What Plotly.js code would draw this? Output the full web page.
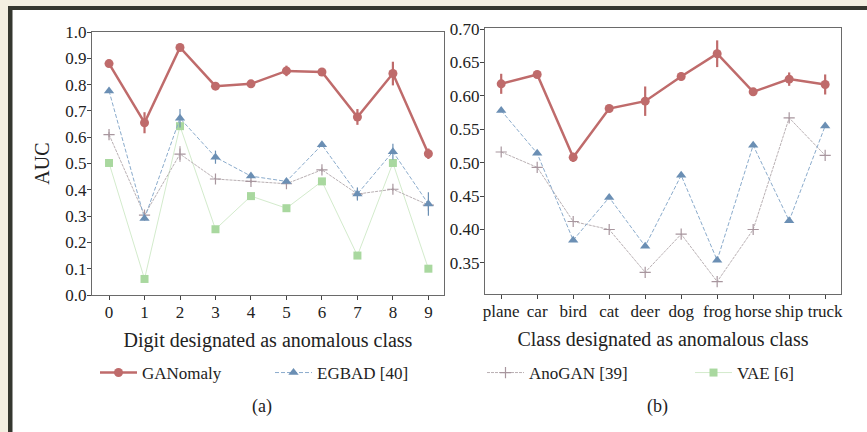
<!DOCTYPE html>
<html>
<head>
<meta charset="utf-8">
<script src="https://cdn.plot.ly/plotly-3.0.1.min.js"></script>
<style>html,body{margin:0;padding:0;background:#f3efe1;}#chart{width:867px;height:432px;}</style>
</head>
<body>
<div id="chart"></div>
<script>
// ---- data ----
const digits = ["0","1","2","3","4","5","6","7","8","9"];
const cifarClasses = ["plane","car","bird","cat","deer","dog","frog","horse","ship","truck"];

const mnistGANomaly    = [0.880,0.655,0.941,0.794,0.803,0.852,0.848,0.677,0.842,0.537];
const mnistGANomalyErr = [0.005,0.040,0.005,0.006,0.005,0.020,0.015,0.030,0.045,0.020];
const mnistEGBAD       = [0.776,0.291,0.672,0.524,0.452,0.432,0.571,0.384,0.545,0.346];
const mnistEGBADErr    = [0.004,0.005,0.035,0.025,0.008,0.006,0.006,0.025,0.030,0.045];
const mnistAnoGAN      = [0.610,0.304,0.536,0.441,0.432,0.423,0.476,0.384,0.402,0.342];
const mnistAnoGANErr   = [0.010,0.010,0.030,0.004,0.006,0.008,0.008,0.006,0.006,0.006];
const mnistVAE         = [0.502,0.061,0.642,0.250,0.376,0.330,0.432,0.150,0.502,0.100];

const cifarGANomaly    = [0.618,0.632,0.508,0.581,0.592,0.629,0.663,0.606,0.625,0.617];
const cifarGANomalyErr = [0.015,0.002,0.007,0.004,0.022,0.006,0.020,0.004,0.010,0.015];
const cifarEGBAD       = [0.578,0.514,0.384,0.448,0.375,0.481,0.354,0.526,0.413,0.555];
const cifarAnoGAN      = [0.516,0.493,0.412,0.400,0.336,0.393,0.322,0.400,0.567,0.511];

const legendNames = ["GANomaly","EGBAD [40]","AnoGAN [39]","VAE [6]"];
const yTicksLeft  = [0,0.1,0.2,0.3,0.4,0.5,0.6,0.7,0.8,0.9,1.0];
const yTicksRight = [0.35,0.40,0.45,0.50,0.55,0.60,0.65,0.70];

// ---- styles ----
const W = 867, H = 432;
const serif = "Liberation Serif";
const cRed = "#bf6b6b", cBlue = "#6b8fb4", cBlueLine = "#8aabcc", cGrey = "#a8969e", cGreyLine = "#b9b0b3", cGreen = "#a9d89f", cGreenLine = "#d3ebcc";
const px = v => v / W, py = v => (H - v) / H;

function gan(x, y, err, xa, ya, show) {
  return {x, y, xaxis: xa, yaxis: ya, type: "scatter", mode: "lines+markers", name: legendNames[0],
    legend: "legend", showlegend: show,
    line: {color: cRed, width: 2.5}, marker: {symbol: "circle", size: 9, color: cRed},
    error_y: {type: "data", array: err, visible: true, thickness: 2.2, width: 0, color: cRed}};
}
function egbad(x, y, err, xa, ya, show) {
  const t = {x, y, xaxis: xa, yaxis: ya, type: "scatter", mode: "lines+markers", name: legendNames[1],
    legend: "legend2", showlegend: show,
    line: {color: cBlueLine, width: 1, dash: "4px,2px"}, marker: {symbol: "triangle-up", size: 9, color: cBlue}};
  if (err) t.error_y = {type: "data", array: err, visible: true, thickness: 1.2, width: 0, color: cBlue};
  return t;
}
function anogan(x, y, err, xa, ya, show) {
  const t = {x, y, xaxis: xa, yaxis: ya, type: "scatter", mode: "lines+markers", name: legendNames[2],
    legend: "legend3", showlegend: show,
    line: {color: cGreyLine, width: 1, dash: "3px,1px"}, marker: {symbol: "cross-thin", size: 8, line: {color: cGrey, width: 1.2}}};
  if (err) t.error_y = {type: "data", array: err, visible: true, thickness: 1, width: 0, color: cGrey};
  return t;
}
function vae(x, y, xa, ya, show) {
  return {x, y, xaxis: xa, yaxis: ya, type: "scatter", mode: "lines+markers", name: legendNames[3],
    legend: "legend4", showlegend: show,
    line: {color: cGreenLine, width: 1}, marker: {symbol: "square", size: 8, color: cGreen}};
}

const xIdx = digits.map((d, i) => i);
const traces = [
  vae(xIdx, mnistVAE, "x", "y", true),
  anogan(xIdx, mnistAnoGAN, mnistAnoGANErr, "x", "y", true),
  egbad(xIdx, mnistEGBAD, mnistEGBADErr, "x", "y", true),
  gan(xIdx, mnistGANomaly, mnistGANomalyErr, "x", "y", true),
  anogan(xIdx, cifarAnoGAN, null, "x2", "y2", false),
  egbad(xIdx, cifarEGBAD, null, "x2", "y2", false),
  gan(xIdx, cifarGANomaly, cifarGANomalyErr, "x2", "y2", false)
];

const axisCommon = {showline: true, mirror: true, linecolor: "#6a6a6a", linewidth: 1.2,
  ticks: "outside", ticklen: 4, tickcolor: "#444", tickwidth: 1, showgrid: false, zeroline: false,
  ticklabelstandoff: -3,
  tickfont: {family: serif, size: 17, color: "#222"}};

function leg(xpix) {
  return {x: px(xpix), y: py(373), xanchor: "left", yanchor: "middle", orientation: "h",
    bgcolor: "rgba(0,0,0,0)", font: {family: serif, size: 17, color: "#222"}, itemwidth: 37};
}

const layout = {
  width: W, height: H,
  margin: {l: 0, r: 0, t: 0, b: 0},
  font: {family: serif, size: 17, color: "#222"},
  paper_bgcolor: "#f3efe1", plot_bgcolor: "#ffffff",
  showlegend: true,
  xaxis: Object.assign({}, axisCommon, {domain: [px(92), px(444)], range: [-0.48, 9.44],
    tickmode: "array", tickvals: xIdx, ticktext: digits, anchor: "y",
    title: {text: "Digit designated as anomalous class", font: {family: serif, size: 20, color: "#222"}, standoff: 12}}),
  yaxis: Object.assign({}, axisCommon, {domain: [py(295), py(32)], range: [0, 1], anchor: "x",
    tickmode: "array", tickvals: yTicksLeft, tickformat: ".1f",
    title: {text: "AUC", font: {family: serif, size: 20, color: "#222"}, standoff: 10}}),
  xaxis2: Object.assign({}, axisCommon, {domain: [px(485), px(841)], range: [-0.45, 9.44],
    tickmode: "array", tickvals: xIdx, ticktext: cifarClasses, anchor: "y2",
    title: {text: "Class designated as anomalous class", font: {family: serif, size: 20, color: "#222"}, standoff: 12}}),
  yaxis2: Object.assign({}, axisCommon, {domain: [py(294), py(28)], range: [0.3035, 0.7015], anchor: "x2",
    tickmode: "array", tickvals: yTicksRight, tickformat: ".2f"}),
  legend: leg(95), legend2: leg(270), legend3: leg(482), legend4: leg(690),
  shapes: [
    {type: "rect", xref: "paper", yref: "paper", x0: px(8), x1: 1, y0: 0, y1: py(6), fillcolor: "#35372f", line: {width: 0}, layer: "below"},
    {type: "rect", xref: "paper", yref: "paper", x0: px(12.5), x1: 1, y0: 0, y1: py(10), fillcolor: "#ffffff", line: {width: 0}, layer: "below"}
  ],
  annotations: [
    {text: "(a)", xref: "paper", yref: "paper", x: px(250), y: py(406), yanchor: "middle", showarrow: false, font: {family: serif, size: 18, color: "#222"}},
    {text: "(b)", xref: "paper", yref: "paper", x: px(670), y: py(406), yanchor: "middle", showarrow: false, font: {family: serif, size: 18, color: "#222"}}
  ]
};

Plotly.newPlot("chart", traces, layout, {staticPlot: true, displayModeBar: false});
</script>
</body>
</html>
